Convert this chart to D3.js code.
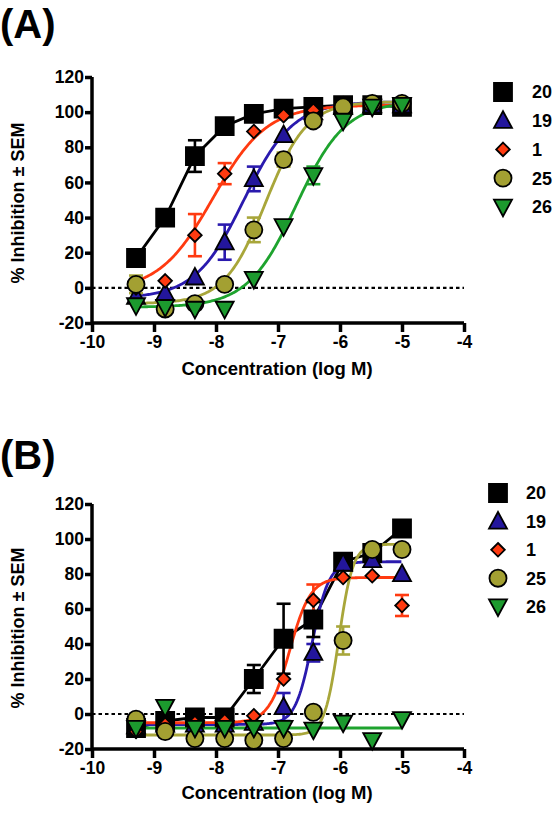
<!DOCTYPE html>
<html><head><meta charset="utf-8">
<script src="https://cdn.jsdelivr.net/npm/d3@7"></script>
<style>
body{margin:0;background:#fff;}
svg{display:block;font-family:"Liberation Sans",Arial,sans-serif;font-weight:bold;}
</style></head>
<body><svg id="c" width="556" height="816"></svg>
<script>
// log molar concentrations (3-fold dilutions)
const logConc = [-9.29, -8.82, -8.34, -7.86, -7.39, -6.91, -6.43, -5.95, -5.48, -5.00];
const compounds = ["20", "19", "1", "25", "26"];
const colors = ["#000000", "#23169c", "#ff3a10", "#a3a032", "#1c9a2e"];
const lineColors = ["#000000", "#2a1aae", "#ff3a10", "#a8a63a", "#1ea32e"];
const shapes = ["square", "triangle", "diamond", "circle", "invtriangle"];
const yTicks = [-20, 0, 20, 40, 60, 80, 100, 120];
const xTicks = [-10, -9, -8, -7, -6, -5, -4];

// Panel A values (% inhibition)
const A_20 = [17, 40, 75, 92, 99, 102, 103, 104, 104, 103];
const A_19 = [-5, -3, 6, 26, 62, 87, 100, 103, 104, 104];
const A_1 = [0, 4, 30, 65, 89, 98, 101, 103, 104, 104];
const A_25 = [2, -12, -9, 2, 33, 73, 95, 103, 105, 105];
const A_26 = [-10, -11, -12, -12, 5, 35, 64, 95, 103, 104];
// Panel A SEM (0 = no visible bar)
const A_20_sem = [0, 0, 9, 0, 0, 0, 0, 0, 0, 0];
const A_19_sem = [0, 0, 0, 10, 7, 0, 0, 0, 0, 0];
const A_1_sem = [0, 0, 12, 6, 0, 0, 0, 0, 0, 0];
const A_25_sem = [5, 0, 0, 0, 7, 4, 0, 0, 0, 0];
const A_26_sem = [0, 0, 0, 0, 0, 0, 5, 0, 0, 0];
// Panel A curve fits: bottom, top, logEC50, hill (null = connect points)
const A_fitBottom = [null, -6, -2, -9, -11];
const A_fitTop = [null, 106, 104, 106, 106];
const A_fitEC50 = [null, -7.55, -8.05, -7.2, -6.7];
const A_fitHill = [null, 1.1, 1.0, 1.3, 1.1];

// Panel B values
const B_20 = [-8, -4, -2, -2, 20, 43, 54, 87, 92, 106];
const B_19 = [-7, -6, -6, -6, -5, 4, 35, 86, 88, 80];
const B_1 = [-10, -6, -5, -4, -1, 20, 65, 78, 79, 62];
const B_25 = [-3, -10, -14, -14, -15, -14, 1, 42, 94, 94];
const B_26 = [-8, 4, -8, -8, -8, -8, -9, -5, -15, -3];
const B_20_sem = [0, 0, 0, 0, 8, 20, 10, 0, 0, 0];
const B_19_sem = [0, 0, 0, 0, 0, 8, 5, 0, 0, 0];
const B_1_sem = [0, 0, 0, 0, 0, 0, 9, 0, 0, 6];
const B_25_sem = [0, 0, 0, 0, 0, 0, 0, 8, 0, 0];
const B_26_sem = [0, 0, 0, 0, 0, 0, 0, 0, 0, 0];
const B_fitBottom = [null, -6, -5, -12, -8];
const B_fitTop = [null, 87, 78, 97, -8];
const B_fitEC50 = [null, -6.45, -6.81, -6.02, -7];
const B_fitHill = [null, 3.2, 2.6, 3.8, 1];

const panels = [
  {label: "(A)", vals: [A_20, A_19, A_1, A_25, A_26], sems: [A_20_sem, A_19_sem, A_1_sem, A_25_sem, A_26_sem],
   fit: [A_fitBottom, A_fitTop, A_fitEC50, A_fitHill], y0: 323, y1: 77, labelY: 38, legX: 503, legTextX: 532, legY: 92, legStep: 28.7, titleY: 203, xTitleY: 375},
  {label: "(B)", vals: [B_20, B_19, B_1, B_25, B_26], sems: [B_20_sem, B_19_sem, B_1_sem, B_25_sem, B_26_sem],
   fit: [B_fitBottom, B_fitTop, B_fitEC50, B_fitHill], y0: 749, y1: 504, labelY: 469, legX: 498, legTextX: 526, legY: 493, legStep: 28.4, titleY: 628, xTitleY: 799}
];

const svg = d3.select("#c");
const x = d3.scaleLinear().domain([-10, -4]).range([92, 464]);
const FONT = '"Liberation Sans",Arial,sans-serif';

function symbolPath(shape, s) {
  const h = s / 2;
  if (shape === "square") return `M${-h},${-h}H${h}V${h}H${-h}Z`;
  if (shape === "triangle") return `M0,${-h*1.05}L${h},${h*0.8}L${-h},${h*0.8}Z`;
  if (shape === "invtriangle") return `M0,${h*1.05}L${h},${-h*0.8}L${-h},${-h*0.8}Z`;
  if (shape === "diamond") { const d = h*0.85; return `M0,${-d}L${d},0L0,${d}L${-d},0Z`; }
  return d3.arc()({innerRadius: 0, outerRadius: h*0.95, startAngle: 0, endAngle: 2*Math.PI});
}
const symSize = [18, 18, 16, 18, 18];

panels.forEach(p => {
  const y = d3.scaleLinear().domain([-20, 120]).range([p.y0, p.y1]);
  const g = svg.append("g");

  g.append("text").attr("x", 0).attr("y", p.labelY).attr("font-size", 40).attr("font-weight", "bold").text(p.label);

  g.append("line").attr("x1", x(-10)).attr("x2", x(-4)).attr("y1", y(0)).attr("y2", y(0))
    .attr("stroke", "#000").attr("stroke-width", 2.2).attr("stroke-dasharray", "3.5,3");

  const fmt = d => String(d);
  const ya = g.append("g").attr("transform", `translate(${x(-10)},0)`)
    .call(d3.axisLeft(y).tickValues(yTicks).tickSize(7).tickPadding(1).tickFormat(fmt));
  const xa = g.append("g").attr("transform", `translate(0,${y(-20)})`)
    .call(d3.axisBottom(x).tickValues(xTicks).tickSize(9).tickPadding(4).tickFormat(fmt));
  [ya, xa].forEach(a => {
    a.select(".domain").attr("stroke-width", 3.5).attr("stroke", "#000");
    a.selectAll(".tick line").attr("stroke-width", 3.5).attr("stroke", "#000");
    a.selectAll(".tick text").attr("font-size", 17.5).attr("font-weight", "bold").attr("fill", "#000")
      .attr("font-family", FONT);
  });
  ya.select(".domain").attr("d", `M0,${y(-20)}V${y(120)}`);
  xa.select(".domain").attr("d", `M${x(-10)},0H${x(-4)}`);

  g.append("text").attr("transform", `translate(24,${p.titleY}) rotate(-90)`).attr("text-anchor", "middle")
    .attr("font-size", 18).attr("font-weight", "bold").text("% Inhibition ± SEM");
  g.append("text").attr("x", 277).attr("y", p.xTitleY).attr("text-anchor", "middle")
    .attr("font-size", 18.5).attr("font-weight", "bold").text("Concentration (log M)");

  const line = d3.line().x(d => x(d[0])).y(d => y(d[1]));
  p.vals.forEach((vals, i) => {
    let pts;
    if (p.fit[0][i] === null) {
      pts = logConc.map((c, k) => [c, vals[k]]);
    } else {
      const b = p.fit[0][i], t = p.fit[1][i], e = p.fit[2][i], h = p.fit[3][i];
      pts = d3.range(logConc[0], logConc[logConc.length - 1] + 0.001, 0.02)
        .map(c => [c, b + (t - b) / (1 + Math.pow(10, (e - c) * h))]);
    }
    g.append("path").attr("d", line(pts)).attr("fill", "none")
      .attr("stroke", lineColors[i]).attr("stroke-width", 2.8);
  });

  p.vals.forEach((vals, i) => {
    logConc.forEach((c, k) => {
      const s = p.sems[i][k];
      if (!s) return;
      const cx = x(c), ya1 = y(vals[k] + s), ya2 = y(vals[k] - s);
      const eb = g.append("g").attr("stroke", lineColors[i]).attr("stroke-width", 2.6);
      eb.append("line").attr("x1", cx).attr("x2", cx).attr("y1", ya1).attr("y2", ya2);
      eb.append("line").attr("x1", cx - 7).attr("x2", cx + 7).attr("y1", ya1).attr("y2", ya1);
      eb.append("line").attr("x1", cx - 7).attr("x2", cx + 7).attr("y1", ya2).attr("y2", ya2);
    });
  });

  p.vals.forEach((vals, i) => {
    g.append("g").selectAll("path").data(logConc.map((c, k) => [c, vals[k]])).join("path")
      .attr("transform", d => `translate(${x(d[0])},${y(d[1])})`)
      .attr("d", symbolPath(shapes[i], symSize[i]))
      .attr("fill", colors[i]).attr("stroke", "#000").attr("stroke-width", 1.8);
  });

  compounds.forEach((name, i) => {
    const ly = p.legY + i * p.legStep;
    g.append("path").attr("transform", `translate(${p.legX},${ly})`)
      .attr("d", symbolPath(shapes[i], symSize[i])).attr("fill", colors[i]).attr("stroke", "#000").attr("stroke-width", 1.8);
    g.append("text").attr("x", p.legTextX).attr("y", ly).attr("dy", "0.36em")
      .attr("font-size", 18).attr("font-weight", "bold").text(name);
  });
});
</script></body></html>
